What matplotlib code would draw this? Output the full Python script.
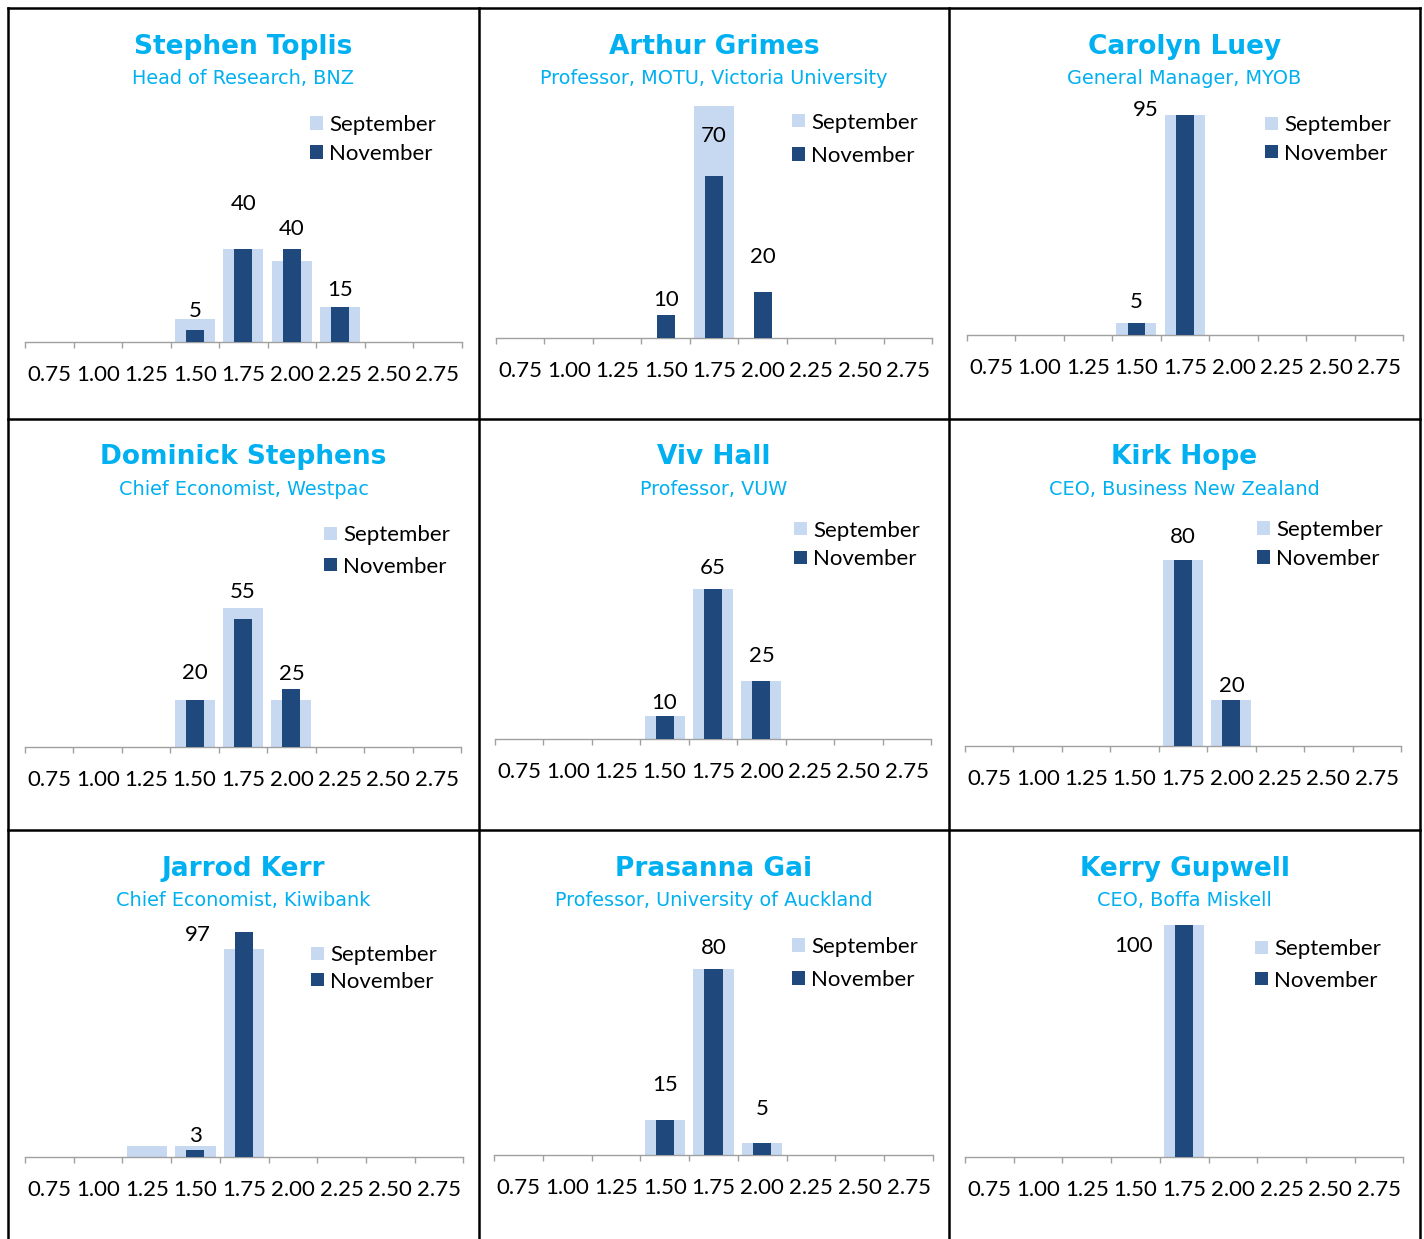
import matplotlib
matplotlib.use("Agg")
import matplotlib.pyplot as plt
from matplotlib.patches import Rectangle
from matplotlib.lines import Line2D
from matplotlib.ticker import FixedLocator

# ---------------- data ----------------
categories = ['0.75', '1.00', '1.25', '1.50', '1.75', '2.00', '2.25', '2.50', '2.75']

names = ['Stephen Toplis', 'Arthur Grimes', 'Carolyn Luey',
         'Dominick Stephens', 'Viv Hall', 'Kirk Hope',
         'Jarrod Kerr', 'Prasanna Gai', 'Kerry Gupwell']
roles = ['Head of Research, BNZ', 'Professor, MOTU, Victoria University',
         'General Manager, MYOB', 'Chief Economist, Westpac', 'Professor, VUW',
         'CEO, Business New Zealand', 'Chief Economist, Kiwibank',
         'Professor, University of Auckland', 'CEO, Boffa Miskell']

september = [
    [0, 0, 0, 10, 40, 35, 15, 0, 0],
    [0, 0, 0, 0, 100, 0, 0, 0, 0],
    [0, 0, 0, 5, 95, 0, 0, 0, 0],
    [0, 0, 0, 20, 60, 20, 0, 0, 0],
    [0, 0, 0, 10, 65, 25, 0, 0, 0],
    [0, 0, 0, 0, 80, 20, 0, 0, 0],
    [0, 0, 5, 5, 90, 0, 0, 0, 0],
    [0, 0, 0, 15, 80, 5, 0, 0, 0],
    [0, 0, 0, 0, 100, 0, 0, 0, 0],
]
november = [
    [0, 0, 0, 5, 40, 40, 15, 0, 0],
    [0, 0, 0, 10, 70, 20, 0, 0, 0],
    [0, 0, 0, 5, 95, 0, 0, 0, 0],
    [0, 0, 0, 20, 55, 25, 0, 0, 0],
    [0, 0, 0, 10, 65, 25, 0, 0, 0],
    [0, 0, 0, 0, 80, 20, 0, 0, 0],
    [0, 0, 0, 3, 97, 0, 0, 0, 0],
    [0, 0, 0, 15, 80, 5, 0, 0, 0],
    [0, 0, 0, 0, 100, 0, 0, 0, 0],
]
series_names = ['September', 'November']

# ---------------- layout (pixels) ----------------
W, H, DPI = 1424, 1239, 100
# axes: left x, right x, baseline y  (pixel coords, y from top)
axes_px = [(25, 461.7, 341.7), (496, 932.3, 338.3), (966.7, 1403.3, 335),
           (25, 461, 746.7), (495, 931, 739.3), (965, 1401, 746),
           (25, 463.3, 1157.3), (494, 933, 1155), (965, 1403.3, 1156.7)]
AX_H = 232  # pixels for 0..100
# legend: marker left x, september centre y, november centre y
legend_px = [(310, 123, 152), (792, 120.7, 154), (1265, 123.3, 151.7),
             (324, 533.3, 564.5), (794, 528.8, 557.3), (1257, 528, 557),
             (311, 953.3, 979.7), (792, 945, 978), (1255, 947.2, 978.8)]
# data-label placement (y in data units, x shift in categories) per nonzero November value
label_y = [[14.3, 60.1, 49.4, 23.1], [17.3, 88.2, 36.0], [15.3, 97.9],
           [32.5, 67.4, 32.0], [16.4, 74.8, 36.8], [91, 26.6],
           [9.9, 96.6], [31.2, 90, 20.5], [91.8]]
label_dx = [[0, 0, 0, 0], [0, 0, 0], [0, -0.8],
            [0, 0, 0], [0, 0, 0], [0, 0],
            [0, -0.95], [0, 0, 0], [-1.03]]

col_x = [8, 479, 949, 1420]
row_y = [8, 419, 830]

SEPT_C = '#C6D9F1'
NOV_C = '#1F497D'
TITLE_C = '#00B0F0'
AXIS_C = '#A0A0A0'
BODY_FONT = ['Lato', 'DejaVu Sans']
TITLE_FONT = ['DejaVu Sans']
FS = 16
CAP_PT = FS * 0.72

fig = plt.figure(figsize=(W / DPI, H / DPI), dpi=DPI)
fig.patch.set_facecolor('white')


def fx(px):
    return px / W


def fy(py):
    return 1 - py / H


for i in range(9):
    r, c = divmod(i, 3)
    x0, x1, base = axes_px[i]
    ax = fig.add_axes([fx(x0), fy(base), (x1 - x0) / W, AX_H / H])
    idx = list(range(len(categories)))
    ax.bar(idx, september[i], width=0.825, color=SEPT_C, zorder=2)
    ax.bar(idx, november[i], width=0.37, color=NOV_C, zorder=3)
    ax.set_xlim(-0.5, len(categories) - 0.5)
    ax.set_ylim(0, 100)
    for s in ['top', 'left', 'right']:
        ax.spines[s].set_visible(False)
    ax.spines['bottom'].set_color(AXIS_C)
    ax.spines['bottom'].set_linewidth(1.0)
    ax.set_yticks([])
    ax.set_xticks(idx)
    ax.set_xticklabels(categories, fontsize=FS, family=BODY_FONT)
    ax.tick_params(axis='x', which='major', length=0, pad=16.5)
    ax.xaxis.set_minor_locator(FixedLocator([k - 0.5 for k in range(len(categories) + 1)]))
    ax.tick_params(axis='x', which='minor', length=4.5, width=1.0, color=AXIS_C, direction='out')
    ax.patch.set_alpha(0)

    # data labels (November values)
    k = 0
    for j, v in enumerate(november[i]):
        if v > 0:
            ax.annotate(str(v), (j + label_dx[i][k], label_y[i][k]),
                        xytext=(0, -CAP_PT / 2), textcoords='offset points',
                        ha='center', va='baseline', fontsize=FS,
                        family=BODY_FONT, color='black', annotation_clip=False)
            k += 1

    # titles
    cx = (col_x[c] + col_x[c + 1]) / 2
    fig.text(fx(cx), fy(row_y[r] + 38.5), names[i], ha='center', va='center',
             fontsize=19, fontweight='bold', color=TITLE_C, family=TITLE_FONT)
    fig.text(fx(cx), fy(row_y[r] + 70.5), roles[i], ha='center', va='center',
             fontsize=13.9, color=TITLE_C, family=TITLE_FONT)

    # legend
    lx, ys, yn = legend_px[i]
    msz = 13.3
    for yy, col, lab in [(ys, SEPT_C, series_names[0]), (yn, NOV_C, series_names[1])]:
        fig.add_artist(Rectangle((fx(lx), fy(yy + msz / 2)), msz / W, msz / H,
                                 transform=fig.transFigure, facecolor=col,
                                 edgecolor='none'))
        fig.text(fx(lx + msz + 6), fy(yy + CAP_PT * DPI / 72 / 2), lab,
                 ha='left', va='baseline', fontsize=FS, family=BODY_FONT,
                 color='black')

# panel borders
for xx in col_x:
    fig.add_artist(Line2D([fx(xx), fx(xx)], [fy(row_y[0]), 0], transform=fig.transFigure,
                          color='black', linewidth=1.8))
for yy in row_y:
    fig.add_artist(Line2D([fx(col_x[0]), fx(col_x[-1])], [fy(yy), fy(yy)],
                          transform=fig.transFigure, color='black', linewidth=1.8))

fig.savefig('out.png', dpi=DPI)
